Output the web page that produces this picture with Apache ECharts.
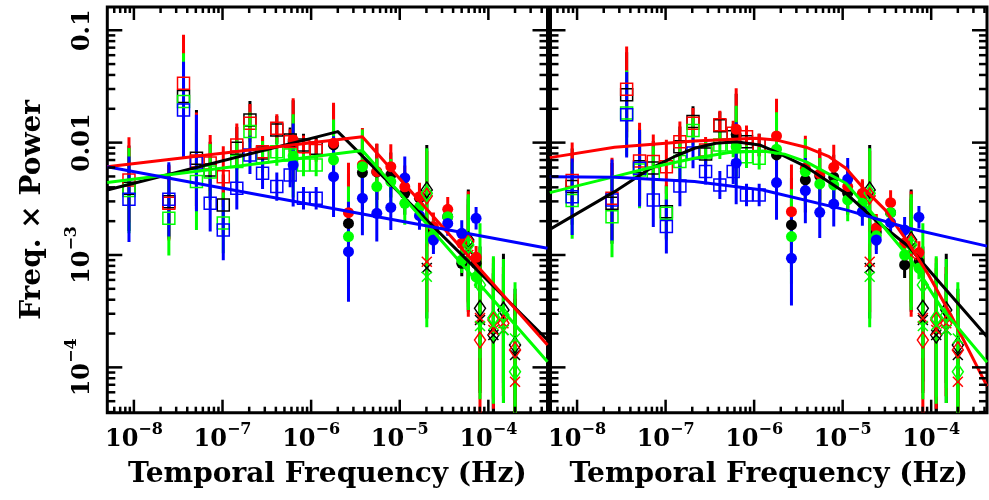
<!DOCTYPE html>
<html>
<head>
<meta charset="utf-8">
<script src="https://cdn.jsdelivr.net/npm/echarts@6.0.0/dist/echarts.min.js"></script>
<style>
html,body{margin:0;padding:0;background:#fff;}
#chart{width:989px;height:500px;}
</style>
</head>
<body>
<div id="chart"></div>
<script>
// ---------------- data ----------------
const colorKeys = ['K', 'R', 'G', 'B'];
const colorHex = { K: '#000000', R: '#ff0000', G: '#00ff00', B: '#0000ff' };

// frequencies (Hz)
const freqSquares = [8.8e-9, 2.48e-8, 3.63e-8, 5.08e-8, 7.26e-8, 1.02e-7, 1.45e-7, 2.04e-7, 2.83e-7, 4.1e-7, 5.8e-7, 8.2e-7, 1.14e-6];
const freqCircles = [6.27e-7, 1.79e-6, 2.64e-6, 3.79e-6, 5.51e-6, 7.93e-6, 1.14e-5, 1.67e-5, 2.40e-5, 3.48e-5, 5.01e-5, 7.27e-5];
const freqHigh = [2.02e-5, 5.94e-5, 8.05e-5, 1.14e-4, 1.48e-4, 2.0e-4];

// left panel: open squares
const leftSqK = [3.93e-3, 2.98e-3, 0.0257, 7.26e-3, 5.71e-3, 2.79e-3, 8.91e-3, 0.0159, 8.09e-3, 0.01297, 0.01057, 9.54e-3, 8.91e-3];
const leftSqR = [4.66e-3, 2.88e-3, 0.0338, 6.87e-3, 6.59e-3, 4.98e-3, 9.54e-3, 0.0149, 8.31e-3, 0.01343, 0.0102, 9.2e-3, 8.49e-3];
const leftSqG = [3.74e-3, 2.12e-3, 0.0232, 4.5e-3, 5.48e-3, 1.93e-3, 6.78e-3, 0.01253, 7.5e-3, 8.31e-3, 7.77e-3, 6.32e-3, 6.32e-3];
const leftSqB = [3.13e-3, 3.13e-3, 0.0195, 6.59e-3, 2.88e-3, 1.67e-3, 3.93e-3, 7.77e-3, 5.35e-3, 4.06e-3, 5.15e-3, 3.2e-3, 3.2e-3];
const leftSqErr = [0.38, 0.33, 0.43, 0.43, 0.25, 0.27, 0.19, 0.17, 0.14, 0.125, 0.11, 0.10, 0.10];

// left panel: filled circles
const leftCiK = [0.01014, 9.54e-3, 1.91e-3, 5.41e-3, 5.48e-3, 5.15e-3, 3.54e-3, 3.2e-3, 1.67e-3, 2.19e-3, 8.43e-4, 8.43e-4];
const leftCiR = [0.01057, 9.88e-3, 2.38e-3, 6.32e-3, 5.52e-3, 6.11e-3, 4.04e-3, 3.3e-3, 1.79e-3, 2.55e-3, 1.27e-3, 9.55e-4];
const leftCiG = [7.62e-3, 7.02e-3, 1.46e-3, 6.11e-3, 4.06e-3, 4.5e-3, 2.88e-3, 2.67e-3, 1.51e-3, 2.19e-3, 9.02e-4, 6.4e-4];
const leftCiB = [6.32e-3, 4.98e-3, 1.07e-3, 3.2e-3, 2.35e-3, 2.65e-3, 4.85e-3, 2.24e-3, 1.36e-3, 1.91e-3, 1.56e-3, 2.12e-3];
const leftCiErr = [0.37, 0.36, 0.445, 0.33, 0.25, 0.2, 0.19, 0.125, 0.125, 0.11, 0.115, 0.1];

// right panel: open squares
const rightSqK = [4.06e-3, 2.88e-3, 0.0266, 6.11e-3, 5.95e-3, 2.43e-3, 9.2e-3, 0.0154, 7.93e-3, 0.0141, 0.0113, 0.0102, 9.54e-3];
const rightSqR = [4.59e-3, 3.2e-3, 0.0299, 6.87e-3, 6.78e-3, 6.11e-3, 0.0102, 0.0149, 8.61e-3, 0.0144, 0.01213, 0.0113, 9.54e-3];
const rightSqG = [3.05e-3, 2.19e-3, 0.0183, 5.71e-3, 5.35e-3, 2.35e-3, 6.78e-3, 0.01285, 8.26e-3, 9.54e-3, 9.54e-3, 7.5e-3, 7.26e-3];
const rightSqB = [3.3e-3, 3.09e-3, 0.0177, 5.91e-3, 3.09e-3, 1.79e-3, 4.11e-3, 8.09e-3, 5.52e-3, 4.2e-3, 5.52e-3, 3.42e-3, 3.42e-3];
const rightSqErr = [0.34, 0.36, 0.38, 0.34, 0.24, 0.24, 0.18, 0.135, 0.115, 0.125, 0.11, 0.1, 0.1];

// right panel: filled circles
const rightCiK = [0.01172, 7.77e-3, 1.85e-3, 4.66e-3, 5.05e-3, 4.92e-3, 3.54e-3, 3.42e-3, 1.6e-3, 2.38e-3, 8.15e-4, 8.67e-4];
const rightCiR = [0.01315, 0.01148, 2.43e-3, 5.91e-3, 5.26e-3, 6.04e-3, 4.06e-3, 3.54e-3, 1.74e-3, 2.92e-3, 1.28e-3, 1.05e-3];
const rightCiG = [9.2e-3, 8.73e-3, 1.46e-3, 5.52e-3, 4.29e-3, 4.2e-3, 3.09e-3, 2.88e-3, 1.48e-3, 2.38e-3, 1.0e-3, 7.66e-4];
const rightCiB = [6.56e-3, 4.41e-3, 9.35e-4, 3.74e-3, 2.4e-3, 2.84e-3, 4.72e-3, 2.43e-3, 1.36e-3, 1.94e-3, 1.67e-3, 2.17e-3];
const rightCiErr = [0.365, 0.33, 0.42, 0.29, 0.23, 0.2, 0.19, 0.125, 0.125, 0.11, 0.115, 0.1];

// high-frequency open diamonds and crosses (both panels)
const highDiaK = [3.79e-3, 1.36e-3, 3.35e-4, 1.94e-4, 3.24e-4, 1.58e-4];
const highDiaR = [3.35e-3, 1.31e-3, 1.75e-4, 2.64e-4, 2.47e-4, 1.43e-4];
const highDiaG = [3.54e-3, 1.23e-3, 5.41e-4, 2.75e-4, 2.92e-4, 9.14e-5];
const highCrsK = [7.66e-4, 1.11e-3, 2.64e-4, 1.94e-4, 2.15e-4, 1.29e-4];
const highCrsR = [8.71e-4, 1.0e-3, 2.75e-4, 2.15e-4, 2.47e-4, 7.45e-5];
const highCrsG = [6.41e-4, 1.15e-3, 2.33e-4, 2.38e-4, 2.15e-4, 1.81e-4];
const highErrUp = [0.4, 0.45, 0.55, 0.55, 0.5, 0.5];
const highErrDn = [0.45, 0.55, 0.65, 0.7, 0.65, 0.9];

// left panel models: broken power laws [freq, value]
const leftModelK = [[5.0e-9, 3.79e-3], [2.0e-6, 0.01253], [4.65e-4, 1.75e-4]];
const leftModelR = [[5.0e-9, 6.11e-3], [3.79e-6, 0.0113], [4.65e-4, 1.58e-4]];
const leftModelG = [[5.0e-9, 4.41e-3], [3.79e-6, 8.49e-3], [4.65e-4, 1.12e-4]];
const leftModelB = [[5.0e-9, 6.11e-3], [4.65e-4, 1.15e-3]];

// right panel models: bending power laws [freq, value]
const rightModelK = [[4.92e-9, 1.69e-3], [2.65e-8, 3.66e-3], [6.3e-8, 5.71e-3], [1.3e-7, 7.6e-3], [2.12e-7, 8.91e-3], [3.69e-7, 9.88e-3], [6.21e-7, 0.0102], [1.15e-6, 9.54e-3], [1.76e-6, 8.26e-3], [3.84e-6, 6.11e-3], [1.09e-5, 3.54e-3], [2.33e-5, 2.05e-3], [5.56e-5, 1.19e-3], [1.32e-4, 5.41e-4], [4.27e-4, 1.87e-4]];
const rightModelR = [[4.92e-9, 7.35e-3], [2.65e-8, 9.1e-3], [2.12e-7, 0.01035], [1.045e-6, 0.01094], [1.76e-6, 0.01057], [3.84e-6, 9.1e-3], [7.03e-6, 7.5e-3], [1.09e-5, 5.91e-3], [1.65e-5, 4.06e-3], [3.02e-5, 2.52e-3], [5.56e-5, 1.27e-3], [9.35e-5, 6.64e-4], [1.71e-4, 2.82e-4], [4.27e-4, 6.8e-5]];
const rightModelG = [[4.92e-9, 3.59e-3], [2.65e-8, 4.98e-3], [6.3e-8, 5.91e-3], [2.12e-7, 7.26e-3], [5.22e-7, 8.15e-3], [1.245e-6, 8.43e-3], [2.2e-6, 7.9e-3], [3.84e-6, 6.78e-3], [1.09e-5, 4.35e-3], [2.33e-5, 2.19e-3], [5.56e-5, 9.66e-4], [1.32e-4, 3.35e-4], [4.27e-4, 1.11e-4]];
const rightModelB = [[4.92e-9, 4.98e-3], [2.65e-8, 4.92e-3], [2.12e-7, 4.5e-3], [1.245e-6, 3.79e-3], [1.09e-5, 2.52e-3], [5.56e-5, 1.73e-3], [4.27e-4, 1.2e-3]];

// axis ranges
const xMin = 5.01e-9, xMaxLeft = 4.65e-4, xMaxRight = 4.27e-4;
const yMin = 3.95e-5, yMax = 0.161;

// ---------------- chart ----------------
const FONT = 'DejaVu Serif';
const panels = [
  { sq: { K: leftSqK, R: leftSqR, G: leftSqG, B: leftSqB }, sqErr: leftSqErr,
    ci: { K: leftCiK, R: leftCiR, G: leftCiG, B: leftCiB }, ciErr: leftCiErr,
    model: { K: leftModelK, R: leftModelR, G: leftModelG, B: leftModelB }, xMax: xMaxLeft },
  { sq: { K: rightSqK, R: rightSqR, G: rightSqG, B: rightSqB }, sqErr: rightSqErr,
    ci: { K: rightCiK, R: rightCiR, G: rightCiG, B: rightCiB }, ciErr: rightCiErr,
    model: { K: rightModelK, R: rightModelR, G: rightModelG, B: rightModelB }, xMax: xMaxRight }
];
const highDia = { K: highDiaK, R: highDiaR, G: highDiaG };
const highCrs = { K: highCrsK, R: highCrsR, G: highCrsG };

function pairs(fs, vs) { return fs.map((f, i) => [f, vs[i]]); }
function errRows(fs, vs, up, dn) { return fs.map((f, i) => [f, vs[i], up[i], dn[i]]); }

function errSeries(gi, color, rows) {
  return {
    type: 'custom', xAxisIndex: gi, yAxisIndex: gi, data: rows, clip: true, silent: true, z: 2,
    renderItem: function (params, api) {
      const f = api.value(0), y = api.value(1), up = api.value(2), dn = api.value(3);
      const p1 = api.coord([f, y * Math.pow(10, up)]);
      const p2 = api.coord([f, y / Math.pow(10, dn)]);
      return { type: 'line', shape: { x1: p1[0], y1: p1[1], x2: p2[0], y2: p2[1] },
               style: { stroke: color, lineWidth: 3 } };
    }
  };
}
function markSeries(gi, color, data, kind) {
  const s = { type: 'scatter', xAxisIndex: gi, yAxisIndex: gi, data: data, silent: true, z: 2, clip: true };
  if (kind === 'sq') { s.symbol = 'rect'; s.symbolSize = 12; s.itemStyle = { color: 'rgba(0,0,0,0)', borderColor: color, borderWidth: 1.5, opacity: 1 }; }
  if (kind === 'ci') { s.symbol = 'circle'; s.symbolSize = 11; s.itemStyle = { color: color, opacity: 1 }; }
  if (kind === 'dia') { s.symbol = 'diamond'; s.symbolSize = [11, 16]; s.itemStyle = { color: 'rgba(0,0,0,0)', borderColor: color, borderWidth: 1.5, opacity: 1 }; }
  if (kind === 'crs') { s.symbol = 'path://M0,0L10,10M10,0L0,10'; s.symbolSize = 10; s.itemStyle = { color: 'rgba(0,0,0,0)', borderColor: color, borderWidth: 1.5, opacity: 1 }; }
  return s;
}
function tickSeries(gi, xmaxV) {
  const rows = [];
  for (let e = -9; e <= -3; e++) for (let m = 1; m <= 9; m++) {
    const v = m * Math.pow(10, e);
    if (v > xMin * 1.001 && v < xmaxV * 0.999) rows.push([v, 0.01, 0, m === 1 ? 1 : 0]);
  }
  for (let e = -5; e <= -1; e++) for (let m = 1; m <= 9; m++) {
    const v = m * Math.pow(10, e);
    if (v > yMin * 1.001 && v < yMax * 0.999) rows.push([1e-6, v, 1, m === 1 ? 1 : 0]);
  }
  return {
    type: 'custom', xAxisIndex: gi, yAxisIndex: gi, data: rows, silent: true, z: 5, clip: false,
    renderItem: function (params, api) {
      const cs = params.coordSys;
      const ax = api.value(2), major = api.value(3);
      const st = { stroke: '#000', lineWidth: 2.5 };
      if (ax === 0) {
        const x = api.coord([api.value(0), api.value(1)])[0];
        const L = major ? 13 : 6;
        return { type: 'group', children: [
          { type: 'line', shape: { x1: x, y1: cs.y + cs.height, x2: x, y2: cs.y + cs.height - L }, style: st },
          { type: 'line', shape: { x1: x, y1: cs.y, x2: x, y2: cs.y + L }, style: st } ] };
      } else {
        const y = api.coord([api.value(0), api.value(1)])[1];
        const L = major ? 15 : 8;
        return { type: 'group', children: [
          { type: 'line', shape: { x1: cs.x, y1: y, x2: cs.x + L, y2: y }, style: st },
          { type: 'line', shape: { x1: cs.x + cs.width, y1: y, x2: cs.x + cs.width - L, y2: y }, style: st } ] };
      }
    }
  };
}

const rich = {
  b: { fontFamily: FONT, fontWeight: 'bold', fontSize: 24, color: '#000', lineHeight: 30, verticalAlign: 'bottom' },
  s: { fontFamily: FONT, fontWeight: 'bold', fontSize: 16, color: '#000', lineHeight: 14, verticalAlign: 'top' }
};
function isDecade(v) { const e = Math.log10(v); return Math.abs(e - Math.round(e)) < 0.01; }
function xFmt(v) { if (!isDecade(v)) return ''; return '{b|10}{s|\u2212' + Math.abs(Math.round(Math.log10(v))) + '}'; }
function yFmt(v) {
  if (!isDecade(v)) return '';
  const r = Math.round(Math.log10(v));
  if (r === -1) return '{b|0.1}';
  if (r === -2) return '{b|0.01}';
  return '{b|10}{s|\u2212' + Math.abs(r) + '}';
}
const nameStyle = { fontFamily: FONT, fontWeight: 'bold', fontSize: 28, color: '#000' };

const grids = [
  { left: 107.3, top: 7, width: 440.2, height: 405.7, show: true, borderColor: '#000', borderWidth: 3, backgroundColor: 'rgba(0,0,0,0)', containLabel: false, outerBoundsMode: 'none' },
  { left: 550.5, top: 7, width: 436.5, height: 405.7, show: true, borderColor: '#000', borderWidth: 3, backgroundColor: 'rgba(0,0,0,0)', containLabel: false, outerBoundsMode: 'none' }
];
const xAxes = panels.map((p, i) => ({
  type: 'log', logBase: 10, gridIndex: i, min: xMin, max: p.xMax,
  axisLine: { show: false }, axisTick: { show: false }, splitLine: { show: false },
  axisLabel: { formatter: xFmt, rich: rich, margin: 9, hideOverlap: false },
  name: 'Temporal Frequency (Hz)', nameLocation: 'middle', nameGap: 48, nameTextStyle: nameStyle
}));
const yAxes = panels.map((p, i) => ({
  type: 'log', logBase: 10, gridIndex: i, min: yMin, max: yMax,
  axisLine: { show: false }, axisTick: { show: false }, splitLine: { show: false },
  axisLabel: i === 0 ? { formatter: yFmt, rich: rich, rotate: 90, margin: 13, hideOverlap: false } : { show: false },
  name: i === 0 ? 'Freq. \u00d7 Power' : '', nameLocation: 'middle', nameGap: 61, nameTextStyle: nameStyle
}));

const series = [];
panels.forEach((p, gi) => {
  colorKeys.forEach(c => {
    const col = colorHex[c];
    series.push(errSeries(gi, col, errRows(freqSquares, p.sq[c], p.sqErr, p.sqErr)));
    series.push(errSeries(gi, col, errRows(freqCircles, p.ci[c], p.ciErr, p.ciErr)));
    if (highDia[c]) {
      series.push(errSeries(gi, col, errRows(freqHigh, highDia[c], highErrUp, highErrDn)));
      series.push(errSeries(gi, col, errRows(freqHigh, highCrs[c], highErrUp, highErrDn)));
    }
  });
  colorKeys.forEach(c => {
    const col = colorHex[c];
    series.push(markSeries(gi, col, pairs(freqSquares, p.sq[c]), 'sq'));
    series.push(markSeries(gi, col, pairs(freqCircles, p.ci[c]), 'ci'));
    if (highDia[c]) {
      series.push(markSeries(gi, col, pairs(freqHigh, highDia[c]), 'dia'));
      series.push(markSeries(gi, col, pairs(freqHigh, highCrs[c]), 'crs'));
    }
  });
  colorKeys.forEach(c => {
    series.push({
      type: 'line', xAxisIndex: gi, yAxisIndex: gi, data: p.model[c], showSymbol: false, symbol: 'none',
      smooth: false, clip: true, silent: true, z: 3,
      lineStyle: { color: colorHex[c], width: 3, join: 'round' }, itemStyle: { color: colorHex[c] }
    });
  });
  series.push(tickSeries(gi, p.xMax));
});

const chart = echarts.init(document.getElementById('chart'), null, { renderer: 'canvas' });
chart.setOption({
  animation: false,
  backgroundColor: '#ffffff',
  grid: grids,
  xAxis: xAxes,
  yAxis: yAxes,
  series: series
});
</script>
</body>
</html>
